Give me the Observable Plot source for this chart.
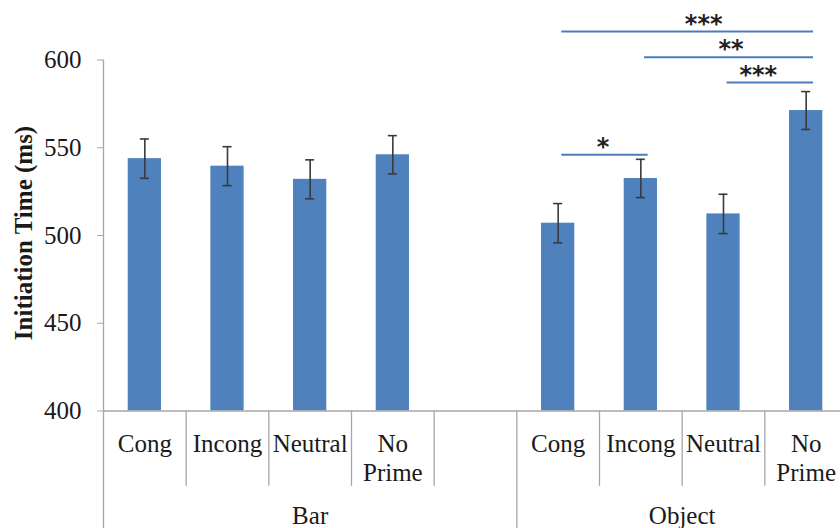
<!DOCTYPE html>
<html><head><meta charset="utf-8">
<script src="https://cdn.jsdelivr.net/npm/d3@7"></script>
<script src="https://cdn.jsdelivr.net/npm/@observablehq/plot@0.6"></script>
<style>html,body{margin:0;padding:0;background:#fff;overflow:hidden;}</style>
</head><body><div id="chart"></div>
<script>
const groups = ["Bar", "Object"];
const conditions = ["Cong", "Incong", "Neutral", "No Prime"];
const barMeans = [543.8, 539.5, 532.0, 546.0];
const barSE = [11.2, 11.1, 11.1, 10.9];
const objectMeans = [507.0, 532.5, 512.3, 571.2];
const objectSE = [11.2, 10.9, 11.2, 10.8];
const yTicks = [400, 450, 500, 550, 600];
const comparisons = [
  {group: "Object", from: "Cong", to: "No Prime", level: 616.2, stars: "***"},
  {group: "Object", from: "Incong", to: "No Prime", level: 601.6, stars: "**"},
  {group: "Object", from: "Neutral", to: "No Prime", level: 587.2, stars: "***"},
  {group: "Object", from: "Cong", to: "Incong", level: 546.0, stars: "*"}
];
const yTitle = "Initiation Time (ms)";

const key = (g, c) => g + "|" + c;
const rows = [
  ...conditions.map((c, i) => ({key: key("Bar", c), group: "Bar", cond: c, mean: barMeans[i], se: barSE[i]})),
  {key: key("Bar", ""), group: "Bar", cond: "", mean: null, se: null},
  ...conditions.map((c, i) => ({key: key("Object", c), group: "Object", cond: c, mean: objectMeans[i], se: objectSE[i]}))
];
const domain = rows.map(d => d.key);
const bars = rows.filter(d => d.mean != null);
const dividers = rows.map((d, i) => ({key: d.key, first: i === 0, long: i === 0 || d.group !== rows[i - 1].group}));

const W = 840, H = 528, mL = 103, mR = -7, mT = 59.5, mB = 117.5;
const bw = (W - mL - mR) / domain.length;
const gray = "#a6a6a6";
const ink = "#1a1a1a";
const blue = "#4F81BD";
const lineBlue = "#4a7ebb";
const serif = "Liberation Serif, Times New Roman, serif";
const FS = 25;

const starNudge = [16, 2, -12, -2];
const sigMarks = comparisons.flatMap((c, k) => {
  const i1 = domain.indexOf(key(c.group, c.from));
  const i2 = domain.indexOf(key(c.group, c.to));
  return [
    Plot.ruleY([c], {x1: () => key(c.group, c.from), x2: () => key(c.group, c.to), y: "level",
      insetLeft: 45, insetRight: 34, stroke: lineBlue, strokeWidth: 2}),
    Plot.text([c], {x: () => key(c.group, c.from), y: "level", text: "stars",
      dx: (11 + (i2 - i1) * bw) / 2 + starNudge[k], dy: -7.5,
      fontFamily: "DejaVu Sans, sans-serif", fontWeight: "bold", fontSize: 24, fill: "#222"})
  ];
});

// group label sits at the centre of the group's span of slots
const groupMarks = groups.map(g => {
  const idx = rows.map((d, i) => d.group === g ? i : -1).filter(i => i >= 0);
  const mid = (idx.length - 1) / 2;
  const anchorKey = rows[idx[Math.floor(mid)]].key;
  const dx = (mid - Math.floor(mid)) * bw;
  return Plot.text([g], {x: () => anchorKey, y: () => 400, text: d => d, lineAnchor: "top", dy: 94.75,
    dx, fontSize: FS, fontFamily: serif, fill: ink});
});

const chart = Plot.plot({
  width: W, height: H,
  marginLeft: mL, marginRight: mR, marginTop: mT, marginBottom: mB,
  style: {background: "white", overflow: "hidden"},
  x: {type: "band", domain, paddingInner: 0, paddingOuter: 0, round: false, axis: null},
  y: {domain: [400, 600], axis: null},
  marks: [
    Plot.barY(bars, {x: "key", y1: 400, y2: "mean", fill: blue, insetLeft: 24.7, insetRight: 24.7}),
    Plot.ruleY([400], {stroke: gray, strokeWidth: 1.3}),
    Plot.ruleX(dividers.filter(d => !d.long), {x: "key", y1: 400, y2: 357.1, dx: -bw / 2, stroke: gray, strokeWidth: 1.3}),
    Plot.ruleX(dividers.filter(d => d.long), {x: "key", y1: d => d.first ? 600 : 400, y2: 330, dx: -bw / 2, stroke: gray, strokeWidth: 1.3}),
    Plot.axisY({ticks: yTicks, tickSize: 6, tickPadding: 16, stroke: gray, fill: ink, fontSize: FS, fontFamily: serif, label: null}),
    Plot.ruleX(bars, {x: "key", y1: d => d.mean - d.se, y2: d => d.mean + d.se, stroke: "#3a3a3a", strokeWidth: 1.6}),
    Plot.tickY(bars, {x: "key", y: d => d.mean + d.se, stroke: "#3a3a3a", strokeWidth: 1.6, insetLeft: (bw - 9) / 2, insetRight: (bw - 9) / 2}),
    Plot.tickY(bars, {x: "key", y: d => d.mean - d.se, stroke: "#3a3a3a", strokeWidth: 1.6, insetLeft: (bw - 9) / 2, insetRight: (bw - 9) / 2}),
    Plot.text(bars, {x: "key", y: 400, text: d => d.cond.replace(" ", "\n"), lineAnchor: "top", lineHeight: 1.16,
      dy: 20.75, fontSize: FS, fontFamily: serif, fill: ink}),
    ...groupMarks,
    Plot.text([yTitle], {frameAnchor: "left", textAnchor: "middle", rotate: -90, dx: -80, dy: -2.5, fontSize: FS, fontWeight: "bold",
      fontFamily: serif, fill: ink}),
    ...sigMarks
  ]
});
document.getElementById("chart").append(chart);
</script>
</body></html>
